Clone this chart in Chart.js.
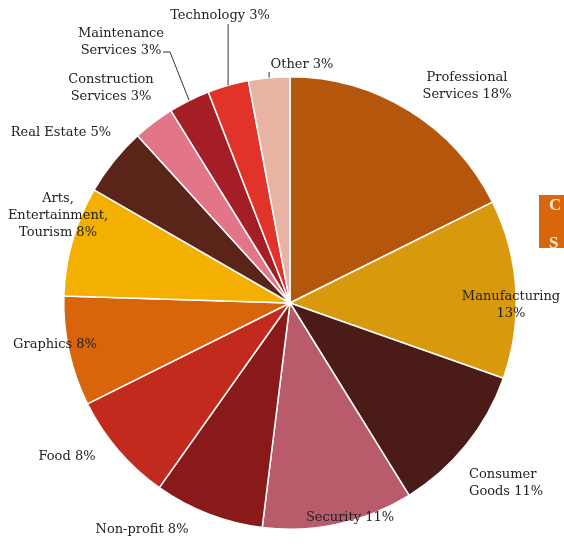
<!DOCTYPE html>
<html lang="en">
<head>
  <meta charset="UTF-8">
  <title>Clients by Sector</title>
  <script src="https://cdn.jsdelivr.net/npm/chart.js"></script>
  <style>
    body {
      margin: 0;
      background: #ffffff;
      overflow: hidden;
    }

    .wrap {
      position: relative;
      width: 564px;
      height: 560px;
    }

    .side-title {
      position: absolute;
      left: 539px;
      top: 195px;
      width: 60px;
      height: 53px;
      background: #d9660c;
      color: #fbeccd;
      font-family: 'Liberation Serif', serif;
      font-weight: bold;
      font-size: 17px;
      line-height: 19px;
      padding: 0 0 0 10px;
      box-sizing: border-box;
    }
  </style>
</head>
<body>

<div class="wrap">
  <canvas id="graficoSetores" width="564" height="560"></canvas>
  <div class="side-title">C<br>&nbsp;<br>S</div>
</div>

<script>
  const setores = [
    ['Professional', 'Services 18%'],
    ['Manufacturing', '13%'],
    ['Consumer', 'Goods 11%'],
    ['Security 11%'],
    ['Non-profit 8%'],
    ['Food 8%'],
    ['Graphics 8%'],
    ['Arts,', 'Entertainment,', 'Tourism 8%'],
    ['Real Estate 5%'],
    ['Construction', 'Services 3%'],
    ['Maintenance', 'Services 3%'],
    ['Technology 3%'],
    ['Other 3%']
  ];
  const percentuais = [18, 13, 11, 11, 8, 8, 8, 8, 5, 3, 3, 3, 3];
  const cores = [
    '#b4560c', '#d8990c', '#4b1b17', '#b95b6b', '#8a1a1a', '#c22a1e', '#d8650c',
    '#f4b000', '#5b2419', '#e27588', '#a51d25', '#e2332a', '#e9b3a3'
  ];

  // onde fica cada rótulo, relativo ao centro da pizza
  const posRotulos = [
    { dx: 177, dy: -217 },
    { dx: 221, dy: 2 },
    { dx: 179, dy: 180, align: 'left' },
    { dx: 60, dy: 215 },
    { dx: -148, dy: 227 },
    { dx: -223, dy: 154 },
    { dx: -235, dy: 42 },
    { dx: -232, dy: -87 },
    { dx: -229, dy: -170 },
    { dx: -179, dy: -215 },
    { dx: -169, dy: -261, guia: { de: [-127, -251], risco: [-120, -251] } },
    { dx: -70, dy: -287, guia: { vertical: -279 } },
    { dx: 12, dy: -238, guia: { vertical: -231 } }
  ];

  const rotulosPlugin = {
    id: 'rotulos',
    afterDraw(chart) {
      const ctx = chart.ctx;
      const arcos = chart.getDatasetMeta(0).data;
      ctx.save();
      ctx.font = '13px "DejaVu Serif", serif';
      ctx.fillStyle = '#222';
      ctx.strokeStyle = '#333';
      ctx.lineWidth = 1;
      ctx.textBaseline = 'middle';
      arcos.forEach((arc, i) => {
        const cx = arc.x, cy = arc.y;
        const pos = posRotulos[i];
        const linhas = setores[i];
        const altura = 17;
        ctx.textAlign = pos.align || 'center';
        linhas.forEach((txt, k) => {
          const y = cy + pos.dy + (k - (linhas.length - 1) / 2) * altura;
          ctx.fillText(txt, cx + pos.dx, y);
        });

        if (pos.guia) {
          const meio = (arc.startAngle + arc.endAngle) / 2;
          const px = cx + Math.cos(meio) * arc.outerRadius;
          const py = cy + Math.sin(meio) * arc.outerRadius;
          ctx.beginPath();
          if (pos.guia.vertical !== undefined) {
            ctx.moveTo(px, cy + pos.guia.vertical);
          } else {
            ctx.moveTo(cx + pos.guia.de[0], cy + pos.guia.de[1]);
            ctx.lineTo(cx + pos.guia.risco[0], cy + pos.guia.risco[1]);
          }
          ctx.lineTo(px, py);
          ctx.stroke();
        }
      });
      ctx.restore();
    }
  };

  new Chart(document.getElementById('graficoSetores'), {
    type: 'pie',
    data: {
      labels: setores,
      datasets: [{
        data: percentuais,
        backgroundColor: cores,
        borderColor: '#ffffff',
        borderWidth: 1.5
      }]
    },
    options: {
      responsive: false,
      animation: false,
      layout: {
        padding: { left: 63, right: 47, top: 76, bottom: 30 }
      },
      plugins: {
        legend: { display: false },
        tooltip: { enabled: false }
      }
    },
    plugins: [rotulosPlugin]
  });
</script>

</body>
</html>
